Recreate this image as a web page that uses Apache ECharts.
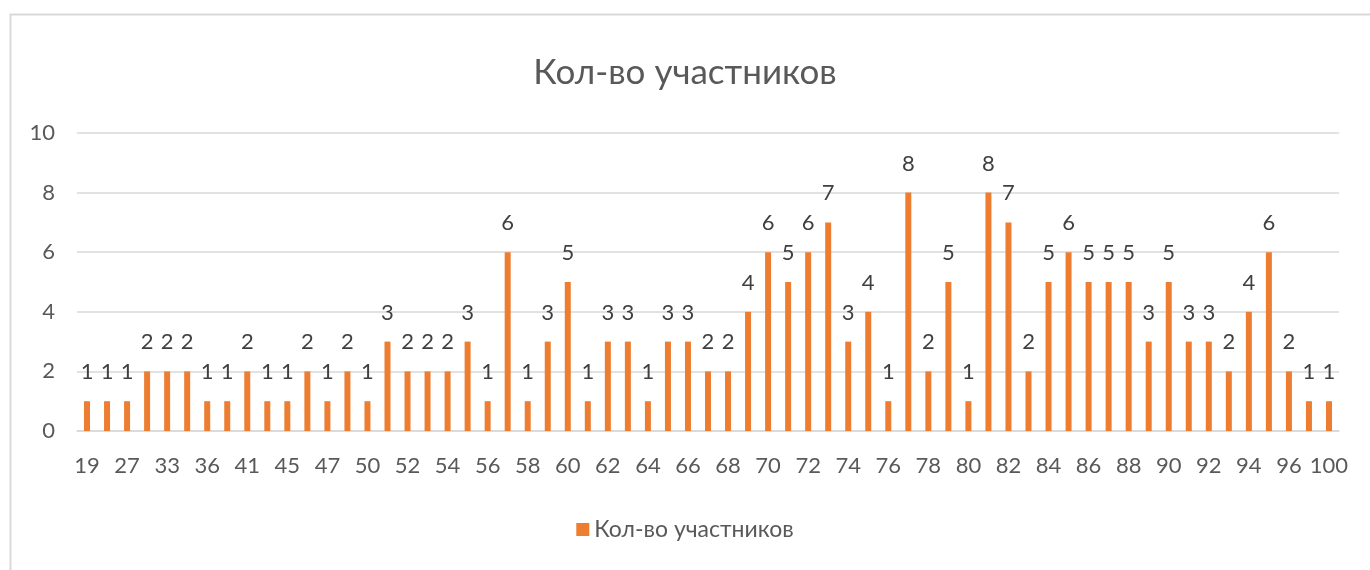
<!DOCTYPE html>
<html><head><meta charset="utf-8">
<script src="https://cdn.jsdelivr.net/npm/echarts@6/dist/echarts.min.js"></script>
<style>html,body{margin:0;padding:0;background:#fff}#c{width:1370px;height:570px}</style>
</head><body><div id="c"></div>
<script>
const categories = [19,24,27,30,33,35,36,38,41,43,45,46,47,48,50,51,52,53,54,55,56,57,58,59,60,61,62,63,64,65,66,67,68,69,70,71,72,73,74,75,76,77,78,79,80,81,82,83,84,85,86,87,88,89,90,91,92,93,94,95,96,98,100].map(String);
const values = [1,1,1,2,2,2,1,1,2,1,1,2,1,2,1,3,2,2,2,3,1,6,1,3,5,1,3,3,1,3,3,2,2,4,6,5,6,7,3,4,1,8,2,5,1,8,7,2,5,6,5,5,5,3,5,3,3,2,4,6,2,1,1];
const yTicks = [0,2,4,6,8,10];
const seriesName = 'Кол-во участников';
const titleText = 'Кол-во участников';

const font = 'Lato, "Open Sans", sans-serif';
const chart = echarts.init(document.getElementById('c'));
chart.setOption({
  animation:false,
  textStyle:{fontFamily:font},
  graphic:[{type:'rect',shape:{x:10.5,y:14.5,width:1400,height:600},style:{fill:'none',stroke:'#d9d9d9',lineWidth:2}}],
  title:{text:titleText,left:'center',top:50,textStyle:{fontFamily:font,fontSize:35,fontWeight:'normal',color:'#595959'}},
  legend:{bottom:24,left:'center',icon:'rect',itemWidth:13,itemHeight:13,itemGap:6,textStyle:{fontFamily:font,fontSize:23,color:'#595959'},data:[seriesName]},
  grid:{left:77,right:31,top:133,bottom:139},
  xAxis:{type:'category',data:categories,axisTick:{show:false},
    axisLine:{lineStyle:{color:'#d9d9d9',width:1.5}},
    axisLabel:{interval:1,color:'#595959',fontSize:22,margin:24,fontFamily:font}},
  yAxis:{type:'value',min:yTicks[0],max:yTicks[yTicks.length-1],interval:2,
    axisLabel:{color:'#595959',fontSize:22,margin:22,fontFamily:font},
    splitLine:{lineStyle:{color:'#d9d9d9',width:1.5}},axisLine:{show:false},axisTick:{show:false}},
  series:[{name:seriesName,type:'bar',data:values,barWidth:6,
    itemStyle:{color:'#ED7D31'},
    label:{show:true,position:'top',distance:18,color:'#404040',fontSize:22,fontFamily:font}}]
});
</script></body></html>
